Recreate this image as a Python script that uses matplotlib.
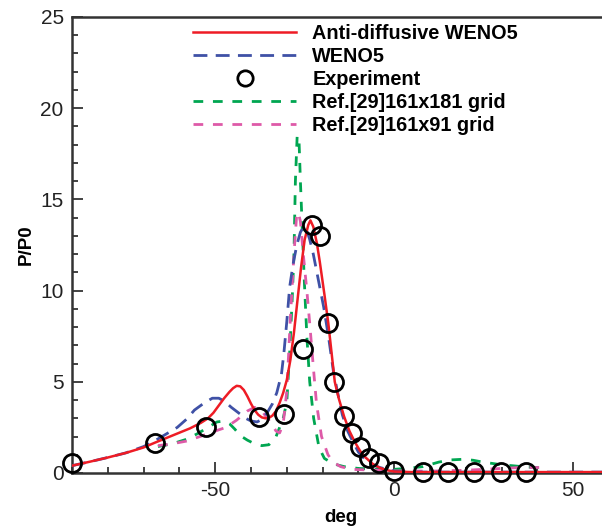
import matplotlib
matplotlib.use("Agg")
import matplotlib.pyplot as plt

plt.rcParams['font.family'] = ['Liberation Sans', 'DejaVu Sans']
plt.rcParams['axes.unicode_minus'] = False

# Experiment
exp_x = [-90, -66.9, -52.5, -37.8, -30.8, -25.6, -23.1, -20.8, -18.6, -16.7, -13.9, -11.7, -9.5, -7.0, -4.3, 0.0, 8.0, 15.0, 22.2, 29.7, 36.7]
exp_y = [0.55, 1.64, 2.52, 3.07, 3.23, 6.8, 13.6, 13.0, 8.2, 5.0, 3.1, 2.2, 1.4, 0.8, 0.55, 0.12, 0.05, 0.05, 0.05, 0.05, 0.05]

# Anti-diffusive WENO5
red_x = [-90, -85, -80, -75, -70, -67, -62, -57, -54, -52, -50.5, -49, -47.5, -46, -45, -44, -43, -42, -41, -40, -39, -38, -37, -36, -35, -34, -33, -32, -31, -30, -29, -28, -27, -26, -25, -24, -23.4, -22.6, -21.6, -20.8, -19.5, -18.4, -17.5, -16.6, -15.5, -14, -12.5, -11, -9.5, -8, -6, -4, -2, 0, 5, 10, 20, 30, 40, 50, 60]
red_y = [0.40, 0.62, 0.85, 1.1, 1.4, 1.65, 2.05, 2.45, 2.75, 3.0, 3.3, 3.7, 4.1, 4.45, 4.65, 4.78, 4.75, 4.55, 4.2, 3.8, 3.45, 3.2, 3.05, 3.0, 3.02, 3.15, 3.4, 3.85, 4.4, 5.1, 6.2, 7.7, 9.5, 11.3, 12.8, 13.6, 13.85, 13.5, 12.6, 11.6, 9.8, 8.2, 6.6, 5.0, 4.1, 3.1, 2.3, 1.7, 1.2, 0.85, 0.5, 0.28, 0.15, 0.08, 0.05, 0.05, 0.05, 0.05, 0.05, 0.05, 0.05]

# WENO5
blue_x = [-90, -85, -80, -75, -70, -67, -64, -60.6, -58, -55.8, -53, -50.8, -49, -47.5, -45.5, -43.5, -41.5, -40, -38.3, -36.8, -35.5, -34, -32.8, -31.5, -30.8, -30, -29.2, -28.2, -27.2, -26.2, -25.3, -24.4, -23.6, -22.6, -21.7, -20.7, -19.7, -18.3, -17, -16, -14.5, -13, -11.5, -10, -8, -6, -4, -2, 0, 5, 10, 20, 30, 40, 50, 60]
blue_y = [0.40, 0.62, 0.85, 1.1, 1.45, 1.75, 2.1, 2.5, 2.95, 3.45, 3.85, 4.1, 4.1, 3.95, 3.6, 3.3, 3.0, 2.85, 2.8, 2.95, 3.3, 3.8, 4.4, 5.4, 6.6, 8.3, 10.2, 11.5, 12.5, 13.2, 13.5, 13.3, 12.8, 12.0, 11.1, 10.1, 9.1, 7.4, 5.6, 4.6, 3.2, 2.3, 1.7, 1.15, 0.7, 0.45, 0.3, 0.2, 0.1, 0.05, 0.05, 0.05, 0.05, 0.05, 0.05, 0.05]

# Ref.[29] 161x181 grid
green_x = [-66, -62, -58, -55, -52, -49.5, -47.5, -46, -44.5, -43, -41, -39, -37, -35, -33, -31, -30, -29.2, -28.5, -28, -27.6, -27.1, -26.6, -26.2, -25.7, -25.1, -24.4, -23.6, -22.5, -21, -19.5, -17, -14, -10, -5, 0, 5, 8, 12.5, 16, 19, 22, 24.7, 30, 33, 36.7, 40, 43]
green_y = [1.45, 1.6, 1.85, 2.15, 2.5, 2.8, 2.85, 2.7, 2.4, 2.05, 1.8, 1.6, 1.5, 1.55, 2.0, 3.0, 3.9, 6.6, 9.5, 12.0, 16.0, 18.5, 18.3, 16.0, 13.5, 10.5, 7.5, 5.0, 3.0, 1.4, 0.8, 0.5, 0.35, 0.25, 0.2, 0.2, 0.28, 0.35, 0.6, 0.72, 0.75, 0.7, 0.6, 0.45, 0.4, 0.33, 0.3, 0.3]

# Ref.[29] 161x91 grid
pink_x = [-66, -62, -58, -55, -52, -50, -47, -44, -41, -39, -37, -35, -33, -32, -31, -30, -29, -28, -27.3, -26.8, -26.2, -25.3, -24.4, -23.6, -22.5, -21.7, -20.3, -18.5, -17, -15, -12, -5, 0, 10, 20, 25, 30, 35, 43]
pink_y = [1.5, 1.6, 1.75, 1.95, 2.15, 2.3, 2.5, 2.9, 3.4, 3.6, 3.4, 2.9, 2.3, 2.2, 2.7, 4.5, 8.5, 12.0, 14.0, 14.3, 13.8, 11.8, 10.0, 8.2, 5.6, 3.8, 2.0, 1.0, 0.6, 0.35, 0.2, 0.15, 0.12, 0.1, 0.15, 0.2, 0.25, 0.3, 0.3]

W, H = 602, 526
fig = plt.figure(figsize=(W / 100, H / 100), dpi=100)
ax_left, ax_right, ax_top, ax_bot = 72, 609, 17, 473
ax = fig.add_axes([ax_left / W, (H - ax_bot) / H, (ax_right - ax_left) / W, (ax_bot - ax_top) / H])

ax.plot(green_x, green_y, color='#00a651', lw=2.0, dashes=(3.5, 3.5), label='Ref.[29]161x181 grid', zorder=2)
ax.plot(pink_x, pink_y, color='#de5aa8', lw=2.0, dashes=(3.5, 3.5), label='Ref.[29]161x91 grid', zorder=2)
ax.plot(blue_x, blue_y, color='#3f51a6', lw=2.0, dashes=(5, 3), label='WENO5', zorder=3)
ax.plot(red_x, red_y, color='#ee1c25', lw=1.8, label='Anti-diffusive WENO5', zorder=4)
ax.plot(exp_x, exp_y, linestyle='none', marker='o', ms=13, mfc='none', mec='black', mew=2.0, label='Experiment', zorder=5, clip_on=False)

ax.set_xlim(-90, 60)
ax.set_ylim(0, 25)
ax.set_xticks([-50, 0, 50])
ax.set_xticks(range(-90, 61, 10), minor=True)
ax.set_yticks([0, 5, 10, 15, 20, 25])
ax.set_yticks(range(0, 26, 1), minor=True)
ax.tick_params(which='both', direction='in', top=False, right=False, labelsize=15, width=1.2, colors='#222222')
ax.tick_params(which='major', length=8, pad=6)
ax.tick_params(which='minor', length=4)
for s in ax.spines.values():
    s.set_linewidth(1.8)
    s.set_color('#333333')

ax.set_xlabel('deg', fontsize=13.5, fontweight='bold', labelpad=6)
ax.set_ylabel('P/P0', fontsize=13.5, fontweight='bold', labelpad=4)

handles, labels = ax.get_legend_handles_labels()
order = ['Anti-diffusive WENO5', 'WENO5', 'Experiment', 'Ref.[29]161x181 grid', 'Ref.[29]161x91 grid']
hmap = dict(zip(labels, handles))
leg = ax.legend([hmap[k] for k in order], order, loc='upper left',
                bbox_to_anchor=((193 - ax_left) / (ax_right - ax_left), 1 - (24 - ax_top) / (ax_bot - ax_top)),
                frameon=False, prop={'weight': 'bold', 'size': 14.3}, handlelength=5.2,
                handletextpad=0.8, labelspacing=0.2, borderpad=0, borderaxespad=0, numpoints=1,
                markerscale=0.85)

fig.savefig('out.png', dpi=100)
